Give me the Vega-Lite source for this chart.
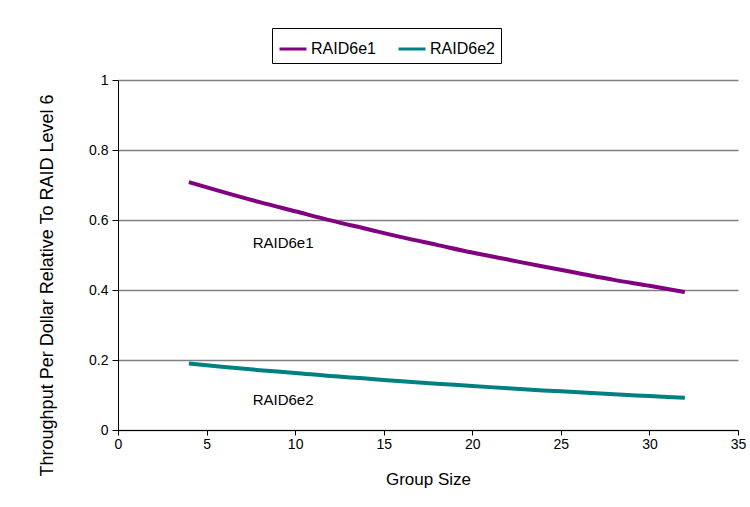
{
  "$schema": "https://vega.github.io/schema/vega-lite/v6.json",
  "width": 620,
  "height": 350,
  "autosize": "none",
  "padding": {"left": 118, "top": 80, "right": 12, "bottom": 77},
  "background": "white",
  "config": {
    "view": {"stroke": null},
    "font": "Liberation Sans",
    "axis": {"labelFont": "Liberation Sans", "titleFont": "Liberation Sans", "labelColor": "#000", "titleColor": "#000", "titleFontWeight": "normal", "labelFontSize": 14, "titleFontSize": 17, "domainColor": "#000", "tickColor": "#000", "labelFlush": false}
  },
  "datasets": {
    "series": [
      {"size": 4, "value": 0.708, "scheme": "RAID6e1"},
      {"size": 6, "value": 0.679, "scheme": "RAID6e1"},
      {"size": 8, "value": 0.651, "scheme": "RAID6e1"},
      {"size": 10, "value": 0.625, "scheme": "RAID6e1"},
      {"size": 12, "value": 0.599, "scheme": "RAID6e1"},
      {"size": 14, "value": 0.575, "scheme": "RAID6e1"},
      {"size": 16, "value": 0.551, "scheme": "RAID6e1"},
      {"size": 18, "value": 0.529, "scheme": "RAID6e1"},
      {"size": 20, "value": 0.507, "scheme": "RAID6e1"},
      {"size": 22, "value": 0.487, "scheme": "RAID6e1"},
      {"size": 24, "value": 0.467, "scheme": "RAID6e1"},
      {"size": 26, "value": 0.448, "scheme": "RAID6e1"},
      {"size": 28, "value": 0.429, "scheme": "RAID6e1"},
      {"size": 30, "value": 0.412, "scheme": "RAID6e1"},
      {"size": 32, "value": 0.394, "scheme": "RAID6e1"},
      {"size": 4, "value": 0.190, "scheme": "RAID6e2"},
      {"size": 6, "value": 0.180, "scheme": "RAID6e2"},
      {"size": 8, "value": 0.171, "scheme": "RAID6e2"},
      {"size": 10, "value": 0.163, "scheme": "RAID6e2"},
      {"size": 12, "value": 0.154, "scheme": "RAID6e2"},
      {"size": 14, "value": 0.147, "scheme": "RAID6e2"},
      {"size": 16, "value": 0.139, "scheme": "RAID6e2"},
      {"size": 18, "value": 0.132, "scheme": "RAID6e2"},
      {"size": 20, "value": 0.126, "scheme": "RAID6e2"},
      {"size": 22, "value": 0.119, "scheme": "RAID6e2"},
      {"size": 24, "value": 0.113, "scheme": "RAID6e2"},
      {"size": 26, "value": 0.108, "scheme": "RAID6e2"},
      {"size": 28, "value": 0.102, "scheme": "RAID6e2"},
      {"size": 30, "value": 0.097, "scheme": "RAID6e2"},
      {"size": 32, "value": 0.092, "scheme": "RAID6e2"}
    ],
    "notes": [
      {"size": 7.6, "value": 0.534, "text": "RAID6e1"},
      {"size": 7.6, "value": 0.086, "text": "RAID6e2"}
    ]
  },
  "encoding": {
    "x": {"field": "size", "type": "quantitative", "scale": {"domain": [0, 35], "nice": false},
      "axis": {"title": "Group Size", "values": [0, 5, 10, 15, 20, 25, 30, 35], "grid": false, "tickSize": 5, "labelPadding": 2, "titleY": 49, "titleBaseline": "middle"}},
    "y": {"field": "value", "type": "quantitative", "scale": {"domain": [0, 1], "nice": false},
      "axis": {"title": "Throughput Per Dollar Relative To RAID Level 6", "titleFontSize": 18, "values": [0, 0.2, 0.4, 0.6, 0.8, 1], "format": "~g", "grid": true, "gridColor": "#808080", "gridWidth": 1.5, "gridOpacity": 1, "tickSize": 6, "labelPadding": 4, "titleX": -71, "titleY": 205, "titleBaseline": "middle", "titleAlign": "center"}}
  },
  "layer": [
    {
      "data": {"name": "series"},
      "mark": {"type": "line", "strokeWidth": 4, "interpolate": "monotone"},
      "encoding": {
        "color": {"field": "scheme", "type": "nominal",
          "scale": {"domain": ["RAID6e1", "RAID6e2"], "range": ["#800080", "#008080"]},
          "legend": {"title": null, "orient": "none", "legendX": 154, "legendY": -52, "direction": "horizontal",
            "symbolType": "stroke", "symbolSize": 729, "symbolStrokeWidth": 3, "labelFontSize": 16, "labelFont": "Liberation Sans",
            "strokeColor": "#000", "padding": 6, "columnPadding": 16, "labelOffset": 3, "fillColor": "white"}}
      }
    },
    {
      "data": {"name": "notes"},
      "mark": {"type": "text", "align": "left", "baseline": "middle", "fontSize": 15, "font": "Liberation Sans", "color": "#000"},
      "encoding": {"text": {"field": "text"}}
    }
  ]
}
